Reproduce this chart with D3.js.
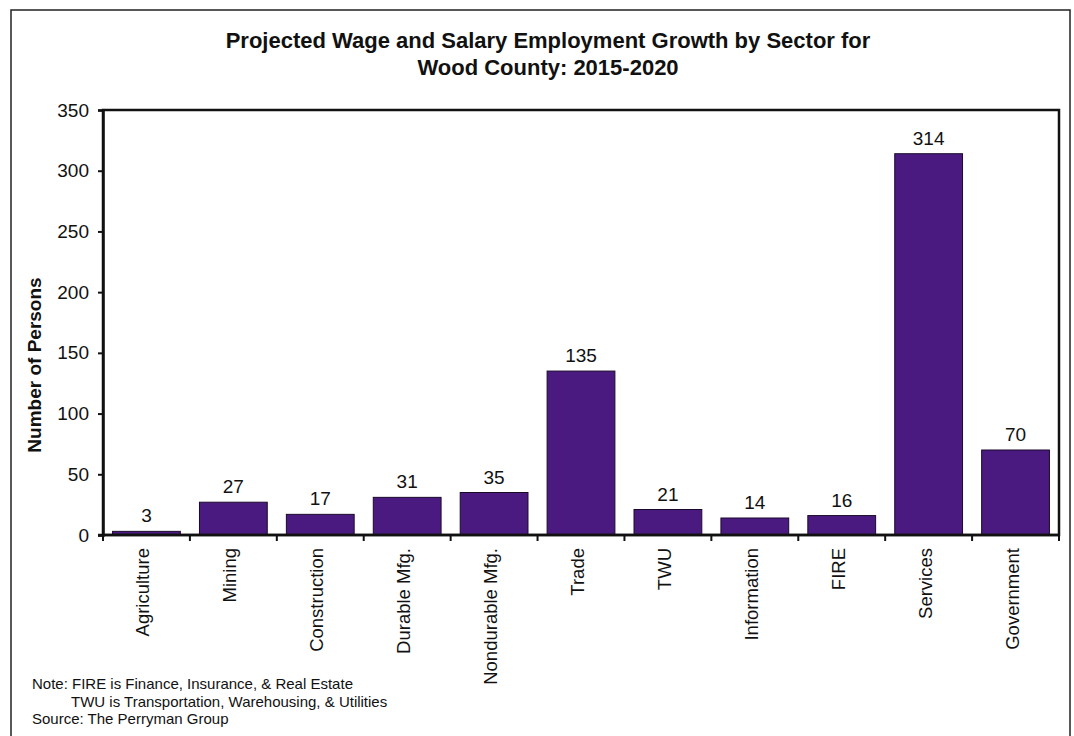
<!DOCTYPE html>
<html>
<head>
<meta charset="utf-8">
<script src="https://cdn.jsdelivr.net/npm/d3@7"></script>
<style>
  html, body { margin: 0; padding: 0; background: #fff; }
  svg { display: block; font-family: "Liberation Sans", Arial, sans-serif; }
</style>
</head>
<body>
<svg id="chart" width="1074" height="736"></svg>
<script>
// Sector categories and projected growth (persons), 2015-2020
const sectors = ["Agriculture", "Mining", "Construction", "Durable Mfg.", "Nondurable Mfg.",
                 "Trade", "TWU", "Information", "FIRE", "Services", "Government"];
const growth = [3, 27, 17, 31, 35, 135, 21, 14, 16, 314, 70];
const yTicks = [0, 50, 100, 150, 200, 250, 300, 350];
const titleLines = ["Projected Wage and Salary Employment Growth by Sector for", "Wood County: 2015-2020"];
const noteLines = ["Note: FIRE is Finance, Insurance, & Real Estate",
                   "TWU is Transportation, Warehousing, & Utilities",
                   "Source: The Perryman Group"];

const svg = d3.select("#chart");
const plot = { left: 103, top: 110, right: 1059, bottom: 535 };
const barColor = "#4b1a80";

// Outer frame (runs off the bottom edge)
svg.append("rect")
  .attr("x", 11).attr("y", 10).attr("width", 1059).attr("height", 740)
  .attr("fill", "none").attr("stroke", "#222").attr("stroke-width", 1.5);

// Title
svg.append("g").selectAll("text").data(titleLines).join("text")
  .attr("x", 548).attr("y", (d, i) => 48 + i * 27)
  .attr("text-anchor", "middle")
  .attr("font-size", 22).attr("font-weight", "bold").attr("fill", "#111")
  .text(d => d);

const x = d3.scaleBand().domain(sectors).range([plot.left, plot.right]).paddingInner(0.22).paddingOuter(0.11);
const y = d3.scaleLinear().domain([0, 350]).range([plot.bottom, plot.top]);

// Bars
svg.append("g").selectAll("rect").data(sectors).join("rect")
  .attr("x", d => x(d))
  .attr("y", (d, i) => y(growth[i]))
  .attr("width", x.bandwidth())
  .attr("height", (d, i) => y(0) - y(growth[i]))
  .attr("fill", barColor)
  .attr("stroke", "#1a0a2a").attr("stroke-width", 1);

// Value labels
svg.append("g").selectAll("text").data(sectors).join("text")
  .attr("x", d => x(d) + x.bandwidth() / 2)
  .attr("y", (d, i) => y(growth[i]) - 9)
  .attr("text-anchor", "middle")
  .attr("font-size", 19).attr("fill", "#111")
  .text((d, i) => growth[i]);

// Plot frame
svg.append("rect")
  .attr("x", plot.left).attr("y", plot.top)
  .attr("width", plot.right - plot.left).attr("height", plot.bottom - plot.top)
  .attr("fill", "none").attr("stroke", "#111").attr("stroke-width", 2.5);

// Y axis
const yAxis = svg.append("g")
  .attr("transform", `translate(${plot.left},0)`)
  .call(d3.axisLeft(y).tickValues(yTicks).tickSize(5).tickPadding(9));
yAxis.select(".domain").attr("stroke", "#111").attr("stroke-width", 2.5);
yAxis.selectAll(".tick line").attr("stroke", "#111").attr("stroke-width", 2);
yAxis.selectAll(".tick text").attr("font-size", 19).attr("fill", "#111")
  .attr("font-family", "'Liberation Sans', Arial, sans-serif");

// X axis: ticks at category boundaries
const boundaries = d3.range(sectors.length + 1).map(i => plot.left + i * (plot.right - plot.left) / sectors.length);
const xAxisG = svg.append("g");
xAxisG.selectAll("line").data(boundaries).join("line")
  .attr("x1", d => d).attr("x2", d => d)
  .attr("y1", plot.bottom).attr("y2", plot.bottom + 6)
  .attr("stroke", "#111").attr("stroke-width", 2);
xAxisG.append("line")
  .attr("x1", plot.left - 5).attr("x2", plot.right + 1)
  .attr("y1", plot.bottom).attr("y2", plot.bottom)
  .attr("stroke", "#111").attr("stroke-width", 2.5);

// Category labels, rotated
svg.append("g").selectAll("text").data(sectors).join("text")
  .attr("transform", d => `translate(${x(d) + x.bandwidth() / 2 + 3},${plot.bottom + 13}) rotate(-90)`)
  .attr("text-anchor", "end")
  .attr("font-size", 18.5).attr("fill", "#111")
  .text(d => d);

// Y axis title
svg.append("text")
  .attr("transform", `translate(41,365) rotate(-90)`)
  .attr("text-anchor", "middle")
  .attr("font-size", 19).attr("font-weight", "bold").attr("fill", "#111")
  .text("Number of Persons");

// Notes
svg.append("g").selectAll("text").data(noteLines).join("text")
  .attr("x", (d, i) => i === 1 ? 71 : 32)
  .attr("y", (d, i) => 689 + i * 17.5)
  .attr("font-size", 15).attr("fill", "#111")
  .text(d => d);
</script>
</body>
</html>
